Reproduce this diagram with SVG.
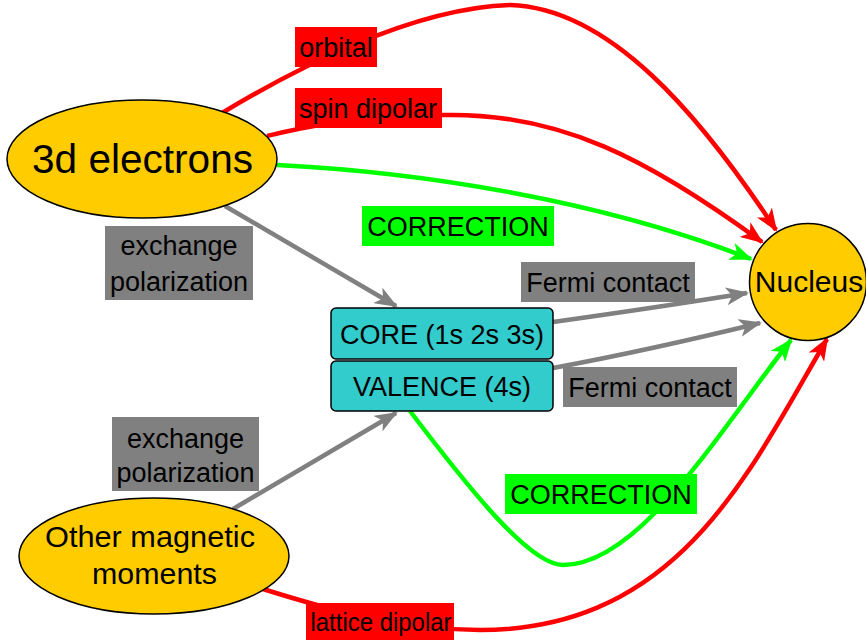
<svg xmlns="http://www.w3.org/2000/svg" width="866" height="642" viewBox="0 0 866 642">
<style>
text{font-family:"Liberation Sans",Arial,sans-serif;fill:#000;text-anchor:middle}
.lbl{font-size:27px}
.node{fill:#FFCC00;stroke:#000;stroke-width:1.5}
.box{fill:#33CCCC;stroke:#000;stroke-width:1.5}
.c{fill:none;stroke-width:4.5}
.red{stroke:#FF0000}
.grn{stroke:#00FF00}
.gry{stroke:#808080}
.bred{fill:#FF0000}
.bgrn{fill:#00FF00}
.bgry{fill:#808080}
</style>
<defs>
<marker id="aR" markerUnits="userSpaceOnUse" markerWidth="24" markerHeight="18" viewBox="0 0 24 18" refX="21" refY="9" orient="auto"><path d="M0,0 L23,9 L0,18 L6,9 z" fill="#FF0000"/></marker>
<marker id="aG" markerUnits="userSpaceOnUse" markerWidth="24" markerHeight="18" viewBox="0 0 24 18" refX="21" refY="9" orient="auto"><path d="M0,0 L23,9 L0,18 L6,9 z" fill="#00FF00"/></marker>
<marker id="aY" markerUnits="userSpaceOnUse" markerWidth="24" markerHeight="18" viewBox="0 0 24 18" refX="21" refY="9" orient="auto"><path d="M0,0 L23,9 L0,18 L6,9 z" fill="#808080"/></marker>
</defs>
<g id="connectors">
<path class="c red" marker-end="url(#aR)" d="M222,113 C290,72 410,8 510,5 C610,8 700,115 776,230"/>
<path class="c red" marker-end="url(#aR)" d="M267,136 C300,128 340,118 442,115 C560,112 650,160 762,242"/>
<path class="c grn" marker-end="url(#aG)" d="M277,165 C420,172 600,200 751,259"/>
<path class="c gry" marker-end="url(#aY)" d="M225,206 L396,306"/>
<path class="c gry" marker-end="url(#aY)" d="M233,509 L396,413"/>
<path class="c gry" marker-end="url(#aY)" d="M553,322 Q660,307 747,293"/>
<path class="c gry" marker-end="url(#aY)" d="M553,368 Q650,350 760,323"/>
<path class="c grn" marker-end="url(#aG)" d="M410,411 C470,490 530,565 563,565 C640,565 720,430 791,340"/>
<path class="c red" marker-end="url(#aR)" d="M263,589 C330,610 400,630 480,630 C680,630 750,470 827,339"/>
</g>
<g id="labels">
<g id="lbl-orbital"><rect class="bred" x="295" y="27" width="82" height="40"/><text class="lbl" x="336" y="57">orbital</text></g>
<g id="lbl-spin"><rect class="bred" x="295" y="88" width="147" height="40"/><text class="lbl" x="368" y="118">spin dipolar</text></g>
<g id="lbl-corr1"><rect class="bgrn" x="362" y="206" width="192" height="40"/><text class="lbl" x="458" y="236">CORRECTION</text></g>
<g id="lbl-fermi1"><rect class="bgry" x="521" y="262" width="174" height="40"/><text class="lbl" x="608" y="292">Fermi contact</text></g>
<g id="lbl-fermi2"><rect class="bgry" x="563" y="367" width="174" height="40"/><text class="lbl" x="650" y="397">Fermi contact</text></g>
<g id="lbl-exch1"><rect class="bgry" x="105" y="226" width="148" height="74"/><text class="lbl" x="179" y="255">exchange</text><text class="lbl" x="179" y="291">polarization</text></g>
<g id="lbl-exch2"><rect class="bgry" x="112" y="417" width="147" height="74"/><text class="lbl" x="185.5" y="448">exchange</text><text class="lbl" x="185.5" y="482">polarization</text></g>
<g id="lbl-corr2"><rect class="bgrn" x="505" y="474" width="192" height="40"/><text class="lbl" x="601" y="504">CORRECTION</text></g>
<g id="lbl-lattice"><rect class="bred" x="306" y="603" width="148" height="37"/><text x="381" y="631" font-size="26" textLength="141" lengthAdjust="spacingAndGlyphs">lattice dipolar</text></g>
</g>
<g id="n-3d"><ellipse class="node" cx="142" cy="159" rx="135" ry="59"/><text x="142.5" y="173" font-size="40" textLength="221" lengthAdjust="spacingAndGlyphs">3d electrons</text></g>
<g id="n-other"><ellipse class="node" cx="154" cy="556" rx="135" ry="58"/><text x="150" y="547" font-size="30" textLength="210" lengthAdjust="spacingAndGlyphs">Other magnetic</text><text x="154.5" y="584" font-size="30" textLength="125" lengthAdjust="spacingAndGlyphs">moments</text></g>
<g id="n-nucleus"><circle class="node" cx="808" cy="282" r="58.5"/><text x="809" y="292" font-size="30">Nucleus</text></g>
<g id="n-core"><rect class="box" x="331" y="308" width="222" height="51" rx="5"/><text class="lbl" x="442" y="344">CORE (1s 2s 3s)</text></g>
<g id="n-valence"><rect class="box" x="331" y="361" width="222" height="50" rx="5"/><text class="lbl" x="442" y="396">VALENCE (4s)</text></g>
</svg>
